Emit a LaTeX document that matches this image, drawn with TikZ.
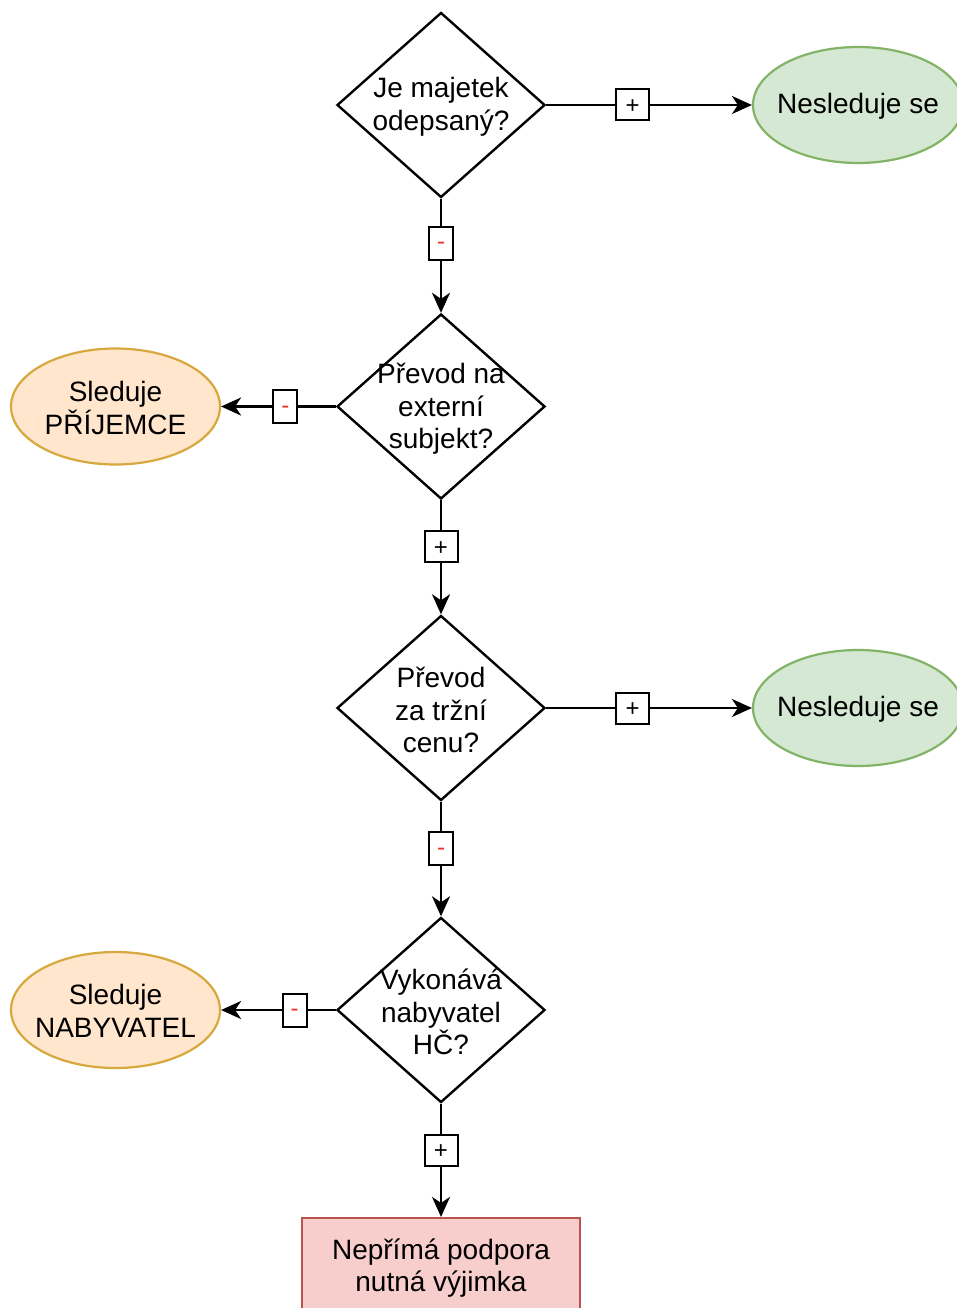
\documentclass[tikz,border=0pt]{standalone}
\usepackage{fontspec}
\setmainfont{Liberation Sans}
\usetikzlibrary{shapes.geometric,arrows.meta}
\definecolor{gfill}{HTML}{D5E8D4}
\definecolor{gdraw}{HTML}{82B366}
\definecolor{ofill}{HTML}{FFE6CC}
\definecolor{odraw}{HTML}{D6A83E}
\definecolor{rfill}{HTML}{F8CECC}
\definecolor{rdraw}{HTML}{B85450}
\definecolor{minred}{HTML}{E8352A}
\begin{document}
\begin{tikzpicture}[x=1pt,y=-1pt,
  every node/.style={font=\fontsize{28}{32.5}\selectfont},
  dec/.style={shape=diamond,draw=black,line width=2.4pt,minimum width=208pt,minimum height=185pt,inner sep=0pt},
  dtext/.style={align=center,inner sep=0pt},
  greenell/.style={shape=ellipse,draw=gdraw,fill=gfill,line width=2.2pt,minimum width=210pt,minimum height=116pt,inner sep=0pt},
  orangeell/.style={shape=ellipse,draw=odraw,fill=ofill,line width=2.2pt,minimum width=209pt,minimum height=116pt,inner sep=0pt},
  endbox/.style={draw=rdraw,fill=rfill,line width=2.2pt,minimum width=278pt,minimum height=100pt,inner sep=0pt,align=center},
  conn/.style={draw=black,line width=2.4pt,-{Stealth[length=20pt,width=18pt,inset=6pt]}},
  lbl/.style={draw=black,fill=white,line width=2pt,inner sep=0pt,font=\fontsize{24}{26}\selectfont},
  plusbox/.style={lbl,minimum width=33pt,minimum height=31pt,text height=16.8pt,text depth=0pt},
  minusbox/.style={lbl,minimum width=24pt,minimum height=33pt,text=minred,text height=13.2pt,text depth=0pt},
]
\useasboundingbox (0,0) rectangle (957,1308);
\begin{scope}
\clip (0,0) rectangle (957,1308);
% decisions
\node[dec] (d1) at (441,105) {};
\node[dtext] (d1t) at (441,107) {Je majetek\\odepsaný?};
\node[dec] (d2) at (441,406.5) {};
\node[dtext] (d2t) at (441,409) {Převod na\\externí\\subjekt?};
\node[dec] (d3) at (441,708) {};
\node[dtext] (d3t) at (441,710) {Převod\\za tržní\\cenu?};
\node[dec] (d4) at (441,1010) {};
\node[dtext] (d4t) at (441,1012) {Vykonává\\nabyvatel\\HČ?};
% outcomes
\node[greenell] (g1) at (858,105) {};
\node[dtext] (g1t) at (858,106) {Nesleduje se};
\node[greenell] (g2) at (858,708) {};
\node[dtext] (g2t) at (858,709) {Nesleduje se};
\node[orangeell] (o1) at (115.5,406.5) {};
\node[dtext] (o1t) at (115.5,408) {Sleduje\\PŘÍJEMCE};
\node[orangeell] (o2) at (115.5,1010) {};
\node[dtext] (o2t) at (115.5,1011) {Sleduje\\NABYVATEL};
\node[endbox] (e) at (441,1268) {Nepřímá podpora\\nutná výjimka};
% connectors
\draw[conn] (d1.east) -- node[pos=0.42,plusbox] (l1) {+} (g1.west);
\draw[conn] (d1.south) -- node[pos=0.39,minusbox] (l2) {-} (d2.north);
\draw[conn] (d2.west) -- node[pos=0.44,minusbox] (l3) {-} (o1.east);
\draw[conn] (d2.south) -- node[pos=0.41,plusbox] (l4) {+} (d3.north);
\draw[conn] (d3.east) -- node[pos=0.42,plusbox] (l5) {+} (g2.west);
\draw[conn] (d3.south) -- node[pos=0.41,minusbox] (l6) {-} (d4.north);
\draw[conn] (d4.west) -- node[pos=0.36,minusbox] (l7) {-} (o2.east);
\draw[conn] (d4.south) -- node[pos=0.41,plusbox] (l8) {+} (e.north);
\end{scope}
\end{tikzpicture}
\end{document}
